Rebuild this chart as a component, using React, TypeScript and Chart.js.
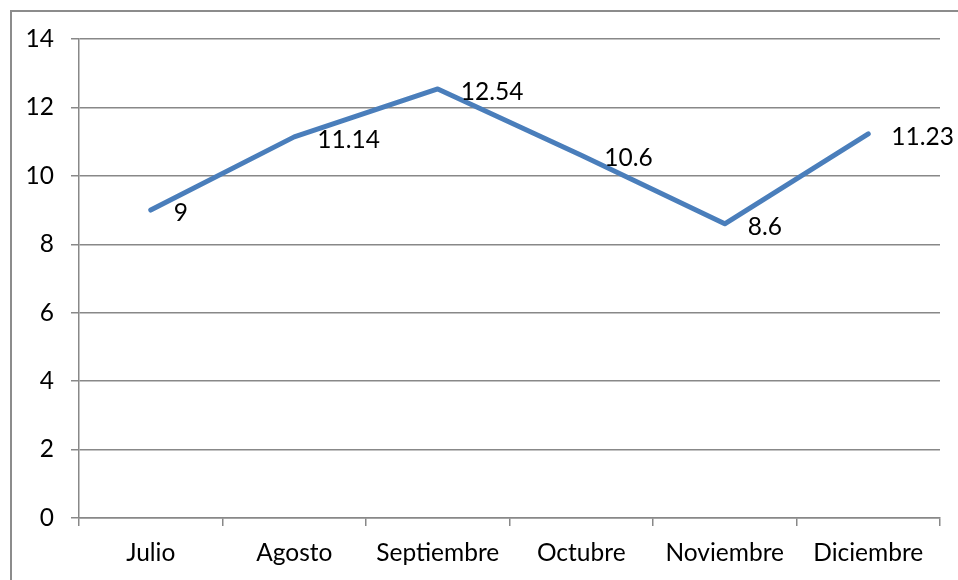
import React, { useEffect, useRef } from "react";
import { Chart, registerables } from "chart.js";

Chart.register(...registerables);

const categories = ["Julio", "Agosto", "Septiembre", "Octubre", "Noviembre", "Diciembre"];
const values = [9, 11.14, 12.54, 10.6, 8.6, 11.23];
const yTicks = [0, 2, 4, 6, 8, 10, 12, 14];

const FONT = "Lato";
const FONT_SIZE = 24.5;
const GRID = "#888888";

const framePlugin = {
  id: "frame",
  beforeDraw(chart: any) {
    const ctx = chart.ctx;
    ctx.save();
    ctx.fillStyle = "#ffffff";
    ctx.fillRect(0, 0, chart.width, chart.height);
    ctx.strokeStyle = "#8c8c8c";
    ctx.lineWidth = 2;
    ctx.strokeRect(11, 11, chart.width + 50, chart.height + 50);
    ctx.restore();
  },
};

const labelPlugin = {
  id: "pointLabels",
  afterDatasetsDraw(chart: any) {
    const ctx = chart.ctx;
    const meta = chart.getDatasetMeta(0);
    ctx.save();
    ctx.font = `${FONT_SIZE}px ${FONT}`;
    ctx.fillStyle = "#000000";
    ctx.textAlign = "left";
    ctx.textBaseline = "middle";
    meta.data.forEach((pt: any, i: number) => {
      ctx.fillText(String(values[i]), pt.x + 23, pt.y + 3);
    });
    ctx.restore();
  },
};

export default function App() {
  const ref = useRef<HTMLCanvasElement | null>(null);
  useEffect(() => {
    if (!ref.current) return;
    const chart = new Chart(ref.current, {
      type: "line",
      data: {
        labels: categories,
        datasets: [
          {
            data: values,
            borderColor: "#4A7EBB",
            borderWidth: 5,
            pointRadius: 0,
            pointHoverRadius: 0,
            tension: 0,
            fill: false,
            borderCapStyle: "round",
            borderJoinStyle: "round",
          },
        ],
      },
      options: {
        animation: false,
        responsive: true,
        maintainAspectRatio: false,
        layout: { padding: { top: 39, right: 18, left: 0, bottom: 0 } },
        plugins: { legend: { display: false }, tooltip: { enabled: false } },
        scales: {
          x: {
            offset: true,
            grid: {
              offset: true,
              drawOnChartArea: false,
              drawTicks: true,
              tickLength: 8,
              color: GRID,
              lineWidth: 1.5,
            },
            border: { display: true, color: GRID, width: 1.5 },
            ticks: { color: "#000", font: { family: FONT, size: FONT_SIZE }, padding: 12, maxRotation: 0, autoSkip: false },
            afterFit(scale: any) {
              scale.height = 62;
            },
          },
          y: {
            min: 0,
            max: 14,
            afterBuildTicks(scale: any) {
              scale.ticks = yTicks.map((v) => ({ value: v }));
            },
            grid: { color: GRID, lineWidth: 1.5, tickLength: 8, drawTicks: true },
            border: { display: true, color: GRID, width: 1.5 },
            ticks: { color: "#000", font: { family: FONT, size: FONT_SIZE }, padding: 17 },
            afterFit(scale: any) {
              scale.width = 79;
            },
          },
        },
      },
      plugins: [framePlugin, labelPlugin],
    });
    return () => chart.destroy();
  }, []);
  return (
    <div style={{ position: "fixed", left: 0, top: 0, width: 958, height: 580 }}>
      <canvas ref={ref} />
    </div>
  );
}
